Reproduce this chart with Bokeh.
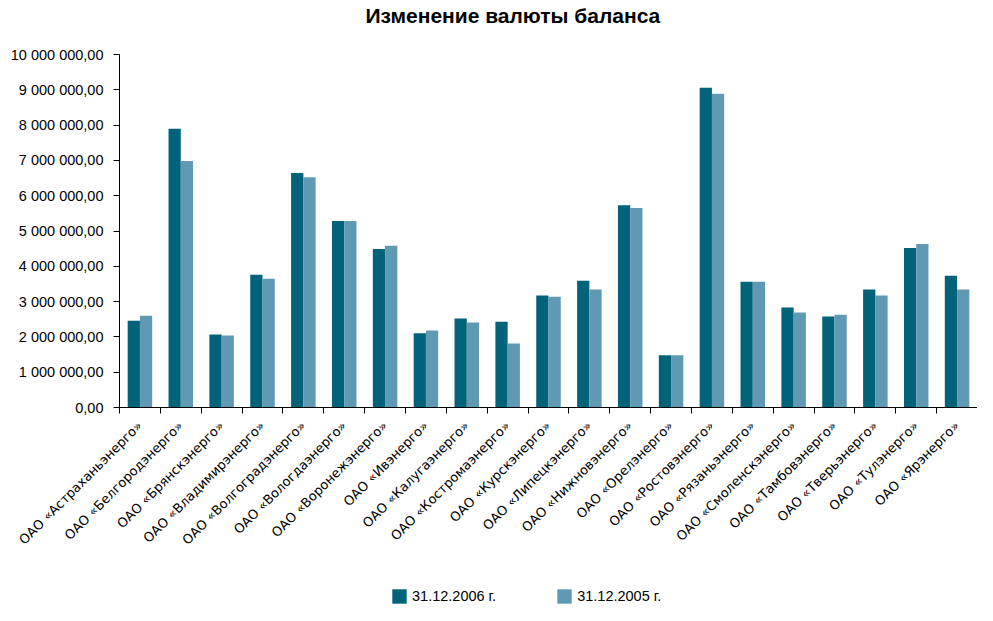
import math
from bokeh.plotting import figure
from bokeh.layouts import column
from bokeh.models import (Range1d, FixedTicker, LinearAxis, Legend, LegendItem,
                          ColumnDataSource, Title)
from bokeh.transform import dodge
from bokeh.embed import file_html
from bokeh.resources import INLINE

title_text = "Изменение валюты баланса"

companies = [
    "ОАО «Астраханьэнерго»", "ОАО «Белгородэнерго»", "ОАО «Брянскэнерго»",
    "ОАО «Владимирэнерго»", "ОАО «Волгоградэнерго»", "ОАО «Вологдаэнерго»",
    "ОАО «Воронежэнерго»", "ОАО «Ивэнерго»", "ОАО «Калугаэнерго»",
    "ОАО «Костромаэнерго»", "ОАО «Курскэнерго»", "ОАО «Липецкэнерго»",
    "ОАО «Нижновэнерго»", "ОАО «Орелэнерго»", "ОАО «Ростовэнерго»",
    "ОАО «Рязаньэнерго»", "ОАО «Смоленскэнерго»", "ОАО «Тамбовэнерго»",
    "ОАО «Тверьэнерго»", "ОАО «Тулэнерго»", "ОАО «Ярэнерго»",
]

values_2006 = [2460000, 7900000, 2070000, 3760000, 6640000, 5280000, 4490000,
               2100000, 2520000, 2430000, 3170000, 3590000, 5730000, 1480000,
               9060000, 3560000, 2830000, 2580000, 3340000, 4520000, 3730000]

values_2005 = [2600000, 6980000, 2040000, 3650000, 6520000, 5280000, 4580000,
               2180000, 2410000, 1810000, 3140000, 3340000, 5650000, 1480000,
               8890000, 3560000, 2690000, 2630000, 3170000, 4630000, 3340000]

series_labels = ["31.12.2006 г.", "31.12.2005 г."]

y_ticks = [0, 1000000, 2000000, 3000000, 4000000, 5000000, 6000000, 7000000,
           8000000, 9000000, 10000000]
y_tick_labels = ["0,00", "1 000 000,00", "2 000 000,00", "3 000 000,00",
                 "4 000 000,00", "5 000 000,00", "6 000 000,00", "7 000 000,00",
                 "8 000 000,00", "9 000 000,00", "10 000 000,00"]

DARK = "#006379"
LIGHT = "#6099B3"

n = len(companies)
centers = [i + 0.5 for i in range(n)]
bounds = [float(i) for i in range(n + 1)]

src = ColumnDataSource(dict(x=centers, v06=values_2006, v05=values_2005))

# ---------------- main chart ----------------
p = figure(width=977, height=580, x_range=Range1d(0, n), y_range=Range1d(0, 10000000),
           output_backend="svg", toolbar_location=None, title_location=None,
           x_axis_type=None, y_axis_type=None,
           min_border_left=119, min_border_right=0, min_border_top=53,
           min_border_bottom=173)
p.outline_line_color = None
p.background_fill_color = "white"

# spacer nearest the frame, then the real title above it
p.add_layout(Title(text=" ", text_font_size="1px", standoff=24), "above")
p.add_layout(Title(text=title_text, align="left", offset=246,
                   text_font="Liberation Sans", text_font_size="21px",
                   text_font_style="bold", text_color="black", standoff=2), "above")

p.vbar(x=dodge("x", -0.15, range=p.x_range), top="v06", width=0.3, source=src,
       fill_color=DARK, line_color=None)
p.vbar(x=dodge("x", 0.15, range=p.x_range), top="v05", width=0.3, source=src,
       fill_color=LIGHT, line_color=None)

yaxis = LinearAxis(ticker=FixedTicker(ticks=y_ticks),
                   major_label_overrides={t: l for t, l in zip(y_ticks, y_tick_labels)},
                   major_tick_out=6, major_tick_in=0, minor_tick_line_color=None,
                   major_label_standoff=10,
                   major_label_text_font="Liberation Sans",
                   major_label_text_font_size="14.5px",
                   major_label_text_color="black",
                   axis_line_color="black", major_tick_line_color="black")
p.add_layout(yaxis, "left")

xaxis = LinearAxis(ticker=FixedTicker(ticks=centers, minor_ticks=bounds),
                   major_label_overrides={c: l for c, l in zip(centers, companies)},
                   major_label_orientation=math.pi / 4,
                   major_tick_line_color=None, major_tick_out=0, major_tick_in=0,
                   minor_tick_out=6, minor_tick_in=0, minor_tick_line_color="black",
                   major_label_standoff=10,
                   major_label_text_font="DejaVu Sans",
                   major_label_text_font_size="13px",
                   major_label_text_color="black",
                   axis_line_color="black")
p.add_layout(xaxis, "below")

# ---------------- legend strip (same series, bars kept far outside its view) ----------------
p2 = figure(width=977, height=25, x_range=Range1d(-100, -100 + n),
            y_range=Range1d(0, 10000000),
            output_backend="svg", toolbar_location=None, title_location=None,
            x_axis_type=None, y_axis_type=None,
            min_border_left=0, min_border_right=0, min_border_top=0, min_border_bottom=0)
p2.outline_line_color = None
p2.grid.visible = False
k1 = p2.vbar(x=dodge("x", -0.15, range=p2.x_range), top="v06", width=0.3, source=src,
             fill_color=DARK, line_color=None)
k2 = p2.vbar(x=dodge("x", 0.15, range=p2.x_range), top="v05", width=0.3, source=src,
             fill_color=LIGHT, line_color=None)

legend = Legend(items=[LegendItem(label=series_labels[0], renderers=[k1]),
                       LegendItem(label=series_labels[1], renderers=[k2])],
                orientation="horizontal", location=(271, 0),
                glyph_width=18, glyph_height=18, label_standoff=4, spacing=59,
                padding=0, margin=0, border_line_color=None,
                background_fill_alpha=0,
                label_text_font="Liberation Sans", label_text_font_size="14.5px",
                label_text_color="black", label_height=18)
p2.add_layout(legend)

open("out.html", "w").write(file_html(column(p, p2, spacing=0), INLINE))
